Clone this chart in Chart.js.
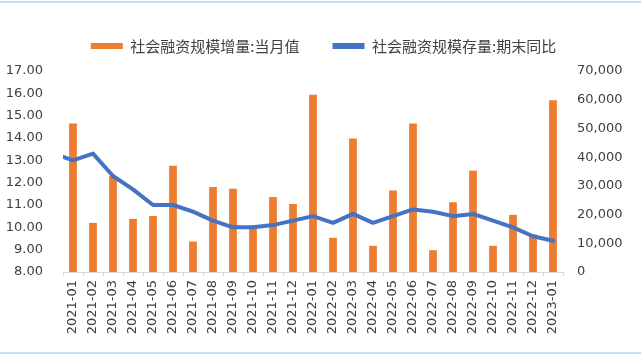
<!DOCTYPE html>
<html><head><meta charset="utf-8">
<script src="https://cdn.jsdelivr.net/npm/chart.js@4"></script>
<style>
html,body{margin:0;padding:0;background:#fff;}
#wrap{position:relative;width:641px;height:356px;overflow:hidden;background:#fff;}
.rule{position:absolute;left:0;width:641px;height:2px;background:#c9dcf0;}
canvas{position:absolute;left:0;top:0;}
</style></head><body>
<div id="wrap">
<canvas id="c" width="641" height="356"></canvas>
<div class="rule" style="top:1px"></div>
<div class="rule" style="top:352px"></div>
</div>
<script>
// first category (2020-12) only feeds the line segment that enters from the left edge
const categories = ['2020-12','2021-01','2021-02','2021-03','2021-04','2021-05','2021-06','2021-07','2021-08','2021-09','2021-10','2021-11','2021-12',
  '2022-01','2022-02','2022-03','2022-04','2022-05','2022-06','2022-07','2022-08','2022-09','2022-10','2022-11','2022-12','2023-01'];
const tsfMonthly = [null,51700,17100,33400,18500,19500,37000,10600,29600,29000,15900,26100,23700,
  61700,11900,46500,9100,28400,51700,7600,24300,35300,9100,19900,13100,59800];
const tsfStockYoY = [13.3,13.0,13.3,12.3,11.7,11.0,11.0,10.7,10.3,10.0,10.0,10.1,10.3,
  10.5,10.2,10.6,10.2,10.5,10.8,10.7,10.5,10.6,10.3,10.0,9.6,9.4];
const seriesNames = ['社会融资规模增量:当月值','社会融资规模存量:期末同比'];
const leftTicks = [8,9,10,11,12,13,14,15,16,17];
const rightTicks = [0,10000,20000,30000,40000,50000,60000,70000];

const textColor = '#404040';
Chart.defaults.font.family = '"DejaVu Sans", sans-serif';
Chart.defaults.font.size = 13;
Chart.defaults.color = textColor;

const legendSpacer = {
  id: 'legendSpacer',
  beforeInit(chart) {
    const origFit = chart.legend.fit;
    chart.legend.fit = function () { origFit.bind(chart.legend)(); this.height += 7.5; };
  }
};

new Chart(document.getElementById('c'), {
  type: 'bar',
  data: {
    labels: categories,
    datasets: [
      { label: seriesNames[0], data: tsfMonthly, yAxisID: 'yR', backgroundColor: '#ED7D31',
        barPercentage: 0.39, categoryPercentage: 1, order: 2 },
      { type: 'line', label: seriesNames[1], data: tsfStockYoY, yAxisID: 'yL',
        borderColor: '#4472C4', backgroundColor: '#4472C4', borderWidth: 4, pointRadius: 0,
        tension: 0, borderJoinStyle: 'round', borderCapStyle: 'round',
        clip: {left: 0, top: false, right: false, bottom: false}, order: 1 }
    ]
  },
  options: {
    responsive: false, animation: false, devicePixelRatio: 1,
    layout: { padding: { left: 6, right: 0, top: 5.5, bottom: 0 } },
    plugins: {
      tooltip: { enabled: false },
      legend: {
        position: 'top', align: 'center',
        labels: {
          boxWidth: 32, boxHeight: 6, padding: 33, color: textColor,
          font: { family: '"Noto Sans CJK SC", sans-serif', size: 15 },
          generateLabels(chart) {
            return chart.data.datasets.map((ds, i) => ({
              text: ds.label, fillStyle: i === 0 ? '#ED7D31' : '#4472C4',
              strokeStyle: 'rgba(0,0,0,0)', lineWidth: 0, hidden: false, datasetIndex: i,
              fontColor: textColor
            }));
          }
        }
      }
    },
    scales: {
      x: {
        type: 'category', min: categories[1], offset: true,
        grid: { display: true, drawOnChartArea: false, drawTicks: true, tickLength: 4, color: '#d9d9d9', offset: true },
        border: { display: true, color: '#d9d9d9' },
        ticks: { autoSkip: false, maxRotation: 90, minRotation: 90, padding: 4 },
        afterFit(s) { s.height = 84; }
      },
      yL: {
        position: 'left', min: leftTicks[0], max: leftTicks[leftTicks.length - 1],
        afterBuildTicks(s) { s.ticks = leftTicks.map(v => ({ value: v })); },
        ticks: { padding: 20, callback: v => Number(v).toFixed(2) },
        grid: { display: false, drawTicks: false }, border: { display: false },
        afterFit(s) { s.width = 57; }
      },
      yR: {
        position: 'right', min: rightTicks[0], max: rightTicks[rightTicks.length - 1],
        afterBuildTicks(s) { s.ticks = rightTicks.map(v => ({ value: v })); },
        ticks: { padding: 14, callback: v => Number(v).toLocaleString('en-US') },
        grid: { display: false, drawTicks: false }, border: { display: false },
        afterFit(s) { s.width = 78; }
      }
    }
  },
  plugins: [legendSpacer]
});
</script>
</body></html>
